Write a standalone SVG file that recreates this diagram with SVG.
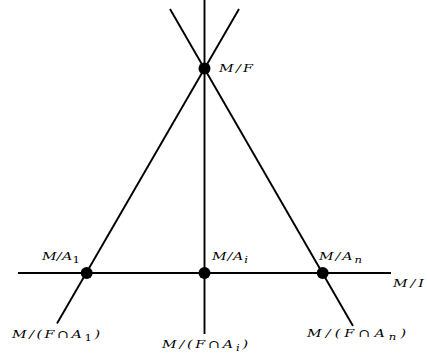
<svg xmlns="http://www.w3.org/2000/svg" width="427" height="355" viewBox="0 0 427 355">
<style>
.ln{stroke:#000;stroke-width:1.9;fill:none;stroke-linecap:butt}
.dot{fill:#000}
.lb{font-family:"DejaVu Serif",serif;font-style:italic;font-size:11px;fill:#000}
.sub{font-size:9px}
.up{font-style:normal}
</style>
<rect width="427" height="355" fill="#fff"/>
<g id="connectors">
<line class="ln" x1="204.5" y1="0" x2="204.5" y2="334"/>
<line class="ln" x1="18" y1="273" x2="391" y2="273"/>
<line class="ln" x1="239" y1="9" x2="57" y2="323.5"/>
<line class="ln" x1="170" y1="9" x2="353" y2="326"/>
</g>
<g id="MF">
<circle class="dot" cx="204.5" cy="68.5" r="6"/>
<text class="lb" transform="translate(219,72) scale(1.3,1)" textLength="26.2" lengthAdjust="spacing">M/F</text>
</g>
<g id="MA1">
<circle class="dot" cx="86.7" cy="273" r="6"/>
<text class="lb" transform="translate(42,260) scale(1.3,1)" textLength="29.2" lengthAdjust="spacing">M/A<tspan class="sub up" dy="3">1</tspan></text>
</g>
<g id="MAi">
<circle class="dot" cx="204.5" cy="273" r="6"/>
<text class="lb" transform="translate(212,260) scale(1.3,1)" textLength="27.7" lengthAdjust="spacing">M/A<tspan class="sub" dy="3">i</tspan></text>
</g>
<g id="MAn">
<circle class="dot" cx="322.7" cy="273" r="6"/>
<text class="lb" transform="translate(319,260) scale(1.3,1)" textLength="33.1" lengthAdjust="spacing">M/A<tspan class="sub" dy="3">n</tspan></text>
</g>
<g id="MI">
<text class="lb" transform="translate(393,287) scale(1.3,1)" textLength="23.8" lengthAdjust="spacing">M/I</text>
</g>
<g id="MFA1">
<text class="lb" transform="translate(12,338) scale(1.3,1)" textLength="67.7" lengthAdjust="spacing">M/(F<tspan class="up">∩</tspan>A<tspan class="sub up" dy="3">1</tspan><tspan dy="-3">)</tspan></text>
</g>
<g id="MFAi">
<text class="lb" transform="translate(162,348) scale(1.3,1)" textLength="66.2" lengthAdjust="spacing">M/(F<tspan class="up">∩</tspan>A<tspan class="sub" dy="3">i</tspan><tspan dy="-3">)</tspan></text>
</g>
<g id="MFAn">
<text class="lb" transform="translate(307,337) scale(1.3,1)" textLength="76.2" lengthAdjust="spacing">M/(F<tspan class="up">∩</tspan>A<tspan class="sub" dy="3">n</tspan><tspan dy="-3">)</tspan></text>
</g>
</svg>
